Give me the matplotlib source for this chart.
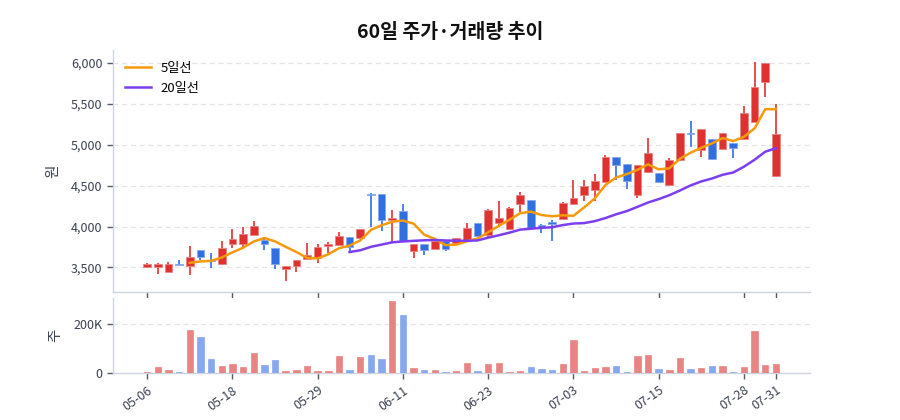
import matplotlib
matplotlib.use("Agg")
import matplotlib.pyplot as plt
import numpy as np
import pandas as pd
from matplotlib.ticker import FuncFormatter

plt.rcParams['font.family'] = ['Noto Sans CJK KR', 'DejaVu Sans']

# 날짜 (60 거래일)
dates = ['05-06', '05-07', '05-08', '05-11', '05-12', '05-13', '05-14', '05-15', '05-18', '05-19',
         '05-20', '05-21', '05-22', '05-26', '05-27', '05-28', '05-29', '06-01', '06-02', '06-04',
         '06-05', '06-08', '06-09', '06-10', '06-11', '06-12', '06-15', '06-16', '06-17', '06-18',
         '06-19', '06-22', '06-23', '06-24', '06-25', '06-26', '06-29', '06-30', '07-01', '07-02',
         '07-03', '07-06', '07-07', '07-08', '07-09', '07-10', '07-13', '07-14', '07-15', '07-16',
         '07-20', '07-21', '07-22', '07-23', '07-24', '07-27', '07-28', '07-29', '07-30', '07-31']

open_ = [3510, 3505, 3443, 3545, 3520, 3712, 3590, 3541, 3790, 3790,
         3900, 3839, 3733, 3476, 3520, 3602, 3610, 3761, 3773, 3871,
         3855, 4400, 4393, 4083, 4193, 3704, 3781, 3728, 3822, 3794,
         3841, 4037, 3894, 4045, 3967, 4281, 4322, 4016, 4057, 4094,
         4281, 4383, 4444, 4546, 4852, 4759, 4384, 4670, 4649, 4507,
         4812, 5139, 4935, 5065, 4943, 5016, 5065, 5281, 5771, 4617]
high = [3555, 3550, 3565, 3585, 3765, 3715, 3680, 3826, 3969, 3994,
        4063, 3845, 3735, 3520, 3595, 3794, 3781, 3810, 3928, 3875,
        3975, 4405, 4393, 4200, 4275, 3785, 3785, 3830, 3825, 3860,
        4037, 4040, 4212, 4310, 4235, 4424, 4325, 4033, 4077, 4306,
        4575, 4567, 4648, 4872, 4855, 4760, 4755, 5077, 4660, 4833,
        5145, 5294, 5190, 5070, 5145, 5020, 5473, 6015, 6000, 5493]
low = [3495, 3420, 3440, 3530, 3406, 3590, 3495, 3535, 3741, 3741,
       3900, 3712, 3480, 3333, 3447, 3600, 3549, 3671, 3765, 3692,
       3850, 3998, 3949, 3806, 3826, 3618, 3651, 3725, 3700, 3790,
       3835, 3870, 3874, 4016, 3960, 4180, 3980, 3915, 3825, 4086,
       4270, 4310, 4310, 4546, 4567, 4454, 4352, 4660, 4527, 4500,
       4805, 4975, 4853, 4815, 4935, 4833, 5060, 5275, 5587, 4600]
close = [3545, 3540, 3537, 3535, 3622, 3630, 3575, 3741, 3851, 3904,
         4010, 3790, 3537, 3516, 3590, 3651, 3753, 3790, 3887, 3753,
         3969, 4390, 4079, 4100, 3826, 3781, 3712, 3822, 3720, 3855,
         3984, 3882, 4208, 4110, 4228, 4383, 3984, 4000, 4030, 4290,
         4350, 4493, 4554, 4852, 4750, 4556, 4751, 4894, 4547, 4812,
         5139, 5126, 5188, 4820, 5139, 4955, 5383, 5709, 5995, 5130]
volume = [5000, 24000, 13000, 5000, 176000, 146000, 56000, 30000, 38000, 25000,
          82000, 32000, 54000, 11000, 13000, 28000, 8000, 9000, 70000, 15000,
          67000, 75000, 59000, 289000, 236000, 23000, 13000, 13000, 7000, 9000,
          43000, 9000, 39000, 41000, 7000, 11000, 25000, 16000, 13000, 38000,
          134000, 9000, 20000, 24000, 30000, 5000, 70000, 72000, 17000, 13000,
          62000, 17000, 21000, 30000, 30000, 5000, 24000, 170000, 34000, 36000]

tick_idx = [0, 8, 16, 24, 32, 40, 48, 56, 59]

UP = '#e03131'
DOWN = '#2f6fe0'
UP_V = '#e98484'
DOWN_V = '#86a8ef'
GRID = '#e3e3e8'
SPINE = '#cfd3de'
TXT = '#3a4152'

df = pd.DataFrame({'open': open_, 'high': high, 'low': low, 'close': close, 'volume': volume})
df['ma5'] = df['close'].rolling(5).mean()
df['ma20'] = df['close'].rolling(20).mean()
x = np.arange(len(df))
up = df['close'] >= df['open']

fig = plt.figure(figsize=(9, 4.2), dpi=100)
ax = fig.add_axes([0.1256, 0.305, 0.7744, 0.576])
axv = fig.add_axes([0.1256, 0.111, 0.7744, 0.179])

# 캔들
cols = [UP if u else DOWN for u in up]
ax.vlines(x, df['low'], df['high'], colors=cols, linewidth=1.2, zorder=2)
body_h = (df['close'] - df['open']).abs().clip(lower=8)
body_b = df[['open', 'close']].min(axis=1)
ax.bar(x, body_h, bottom=body_b, width=0.72, color=cols,
       edgecolor=[UP_V if u else DOWN_V for u in up], linewidth=0.6, zorder=3)

l5, = ax.plot(x, df['ma5'], color='#f59a0c', linewidth=1.8, zorder=4, label='5일선')
l20, = ax.plot(x, df['ma20'], color='#7b3ff0', linewidth=1.8, zorder=4, label='20일선')
ax.legend(handles=[l5, l20], loc='upper left', frameon=False, fontsize=9.5,
          handlelength=2.0, handletextpad=0.7, borderaxespad=0.5, labelspacing=0.55)

ax.set_xlim(-3.2, 62.2)
ax.set_ylim(3200, 6160)
ax.set_yticks([3500, 4000, 4500, 5000, 5500, 6000])
ax.yaxis.set_major_formatter(FuncFormatter(lambda v, p: f'{int(v):,}'))
ax.set_xticks(tick_idx)
ax.set_xticklabels([])
ax.set_ylabel('원', fontsize=10.5, color=TXT, labelpad=8)

# 거래량
vcols = [UP_V if u else DOWN_V for u in up]
axv.bar(x, df['volume'], width=0.6, color=vcols, edgecolor=vcols, linewidth=0.5, zorder=3)
axv.set_xlim(-3.2, 62.2)
axv.set_ylim(0, 302000)
axv.set_yticks([0, 200000])
axv.yaxis.set_major_formatter(FuncFormatter(lambda v, p: '0' if v == 0 else f'{int(v/1000)}K'))
axv.set_xticks(tick_idx)
axv.set_xticklabels([dates[i] for i in tick_idx], rotation=35, ha='right', rotation_mode='anchor')
axv.set_ylabel('주', fontsize=10.5, color=TXT, labelpad=8)

for a in (ax, axv):
    a.grid(axis='y', linestyle=(0, (4, 3)), color=GRID, linewidth=0.9, zorder=0)
    a.set_axisbelow(True)
    for s in ('top', 'right'):
        a.spines[s].set_visible(False)
    for s in ('left', 'bottom'):
        a.spines[s].set_color(SPINE)
        a.spines[s].set_linewidth(1.0)
    a.tick_params(axis='both', colors='#555b66', labelcolor=TXT, labelsize=9, length=4, width=1)

fig.text(0.5, 0.922, '60일 주가·거래량 추이', ha='center', va='center',
         fontsize=14, fontweight='bold', color='#111111')

fig.savefig('out.png', dpi=100)
